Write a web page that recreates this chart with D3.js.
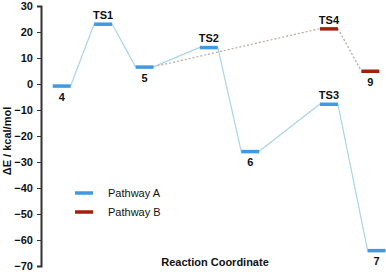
<!DOCTYPE html>
<html>
<head>
<meta charset="utf-8">
<script src="https://cdn.jsdelivr.net/npm/d3@7"></script>
<style>
  html, body { margin: 0; padding: 0; background: #fff; }
  svg { display: block; font-family: "Liberation Sans", Arial, sans-serif; }
  .tick text { font-size: 11px; font-weight: bold; fill: #111; }
  .lbl { font-size: 11px; font-weight: bold; fill: #111; }
</style>
</head>
<body>
<div id="chart"></div>
<script>
// Energy profile (kcal/mol) along an arbitrary reaction coordinate
const pathANames  = ["4", "TS1", "5", "TS2", "6", "TS3", "7"];
const pathAPos    = [1, 2, 3, 4.55, 5.55, 7.45, 8.6];
const pathAEnergy = [-0.7, 23.1, 6.6, 14.1, -25.9, -7.7, -64.0];

const pathBNames  = ["5", "TS4", "9"];
const pathBPos    = [3, 7.45, 8.45];
const pathBEnergy = [6.6, 21.3, 5.0];

const yTicks = [30, 20, 10, 0, -10, -20, -30, -40, -50, -60, -70];
const legendNames = ["Pathway A", "Pathway B"];

(function () {
  const W = 386, H = 272;
  const BAR_W = 18;
  const COLOR = { A: "#3d9be6", B: "#a3200f" };
  const LINK  = { A: "#a9d5e6", B: "#b5aa9c" };

  const svg = d3.select("#chart").append("svg")
    .attr("width", W).attr("height", H).attr("viewBox", `0 0 ${W} ${H}`);

  const x = d3.scaleLinear().domain([0.5, 8.9]).range([41, 389]);
  const y = d3.scaleLinear().domain([-70, 30]).range([266, 6]);

  // Y axis
  const ax = svg.append("g").attr("transform", "translate(41,0)")
    .call(d3.axisLeft(y).tickValues(yTicks).tickSize(4).tickPadding(4));
  ax.select(".domain").attr("stroke", "#333").attr("stroke-width", 2);
  ax.selectAll(".tick line").attr("stroke", "#333");
  ax.selectAll(".tick text").attr("font-family", null).attr("font-size", null);

  svg.append("text").attr("class", "lbl")
    .attr("transform", "translate(11,141) rotate(-90)")
    .attr("text-anchor", "middle")
    .text("ΔE / kcal/mol");

  svg.append("text").attr("class", "lbl")
    .attr("x", 215).attr("y", 266).attr("text-anchor", "middle")
    .text("Reaction Coordinate");

  function pts(names, pos, en) {
    return names.map((n, i) => ({ name: n, u: pos[i], e: en[i] }));
  }
  const A = pts(pathANames, pathAPos, pathAEnergy);
  const B = pts(pathBNames, pathBPos, pathBEnergy);

  function links(data) {
    return d3.pairs(data).map(([a, b]) => ({
      x1: x(a.u) + BAR_W / 2, y1: y(a.e), x2: x(b.u) - BAR_W / 2, y2: y(b.e)
    }));
  }

  // Connectors
  svg.selectAll(".linkB").data(links(B)).join("line").attr("class", "linkB")
    .attr("x1", d => d.x1).attr("y1", d => d.y1).attr("x2", d => d.x2).attr("y2", d => d.y2)
    .attr("stroke", LINK.B).attr("stroke-width", 1.2).attr("stroke-dasharray", "2,2");
  svg.selectAll(".linkA").data(links(A)).join("line").attr("class", "linkA")
    .attr("x1", d => d.x1).attr("y1", d => d.y1).attr("x2", d => d.x2).attr("y2", d => d.y2)
    .attr("stroke", LINK.A).attr("stroke-width", 1.2);

  // Levels
  function levels(data, key) {
    const lv = data.filter(d => !(key === "B" && d.name === "5"));
    svg.selectAll(".lv" + key).data(lv).join("rect").attr("class", "lv" + key)
      .attr("x", d => x(d.u) - BAR_W / 2).attr("y", d => y(d.e) - 1.5)
      .attr("width", BAR_W).attr("height", 3.5)
      .attr("fill", COLOR[key]);
    svg.selectAll(".tx" + key).data(lv).join("text").attr("class", "lbl tx" + key)
      .attr("x", d => x(d.u)).attr("text-anchor", "middle")
      .attr("y", d => d.name.startsWith("TS") ? y(d.e) - 5 : y(d.e) + 15)
      .text(d => d.name);
  }
  levels(A, "A");
  levels(B, "B");

  // Legend
  const lg = svg.append("g").selectAll("g").data(legendNames).join("g")
    .attr("transform", (d, i) => `translate(75,${193 + i * 19})`);
  lg.append("line").attr("x1", 0).attr("x2", 18)
    .attr("stroke", (d, i) => i ? COLOR.B : COLOR.A).attr("stroke-width", 3.5);
  lg.append("text").attr("x", 33).attr("dy", "0.35em")
    .attr("font-size", 11).attr("fill", "#111").text(d => d);
})();
</script>
</body>
</html>
